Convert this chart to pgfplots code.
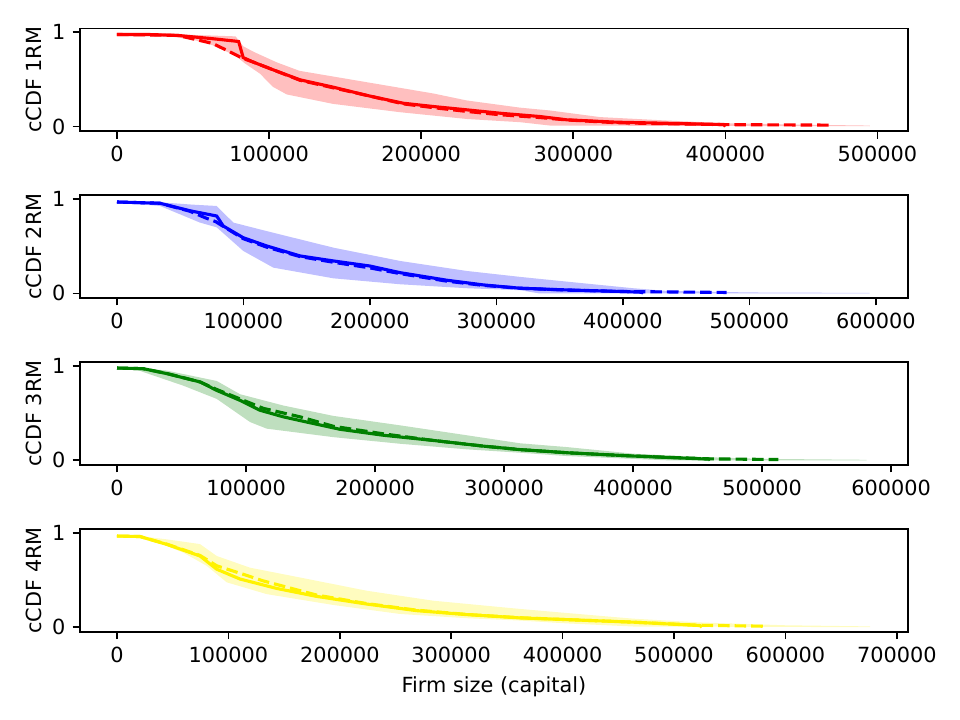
\documentclass[border=0pt]{standalone}
\usepackage{fontspec}
\setmainfont{DejaVu Sans}
\usepackage{pgfplots}
\pgfplotsset{compat=1.18}
\definecolor{mgreen}{RGB}{0,128,0}
\pgfplotsset{
  panel/.style={
    scale only axis, width=397.4pt, height=49.4pt,
    anchor=north west,
    ymin=-0.05, ymax=1.04, ytick={0,1},
    xtick distance=100000,
    tick align=outside, xtick pos=bottom, ytick pos=left,
    major tick length=3.5pt,
    axis line style={line width=0.8pt}, tick style={line width=0.8pt, black},
    /pgf/number format/assume math mode=true,
    scaled x ticks=false,
    xticklabel style={/pgf/number format/fixed, /pgf/number format/1000 sep={}},
    tick label style={font=\fontsize{10}{12}\selectfont},
    label style={font=\fontsize{10}{12}\selectfont},
    ylabel style={yshift=-2pt},
    every axis plot/.append style={line width=1.5pt},
  },
  dsh/.style={dash pattern=on 5.55pt off 2.4pt},
}
\begin{document}
\begin{tikzpicture}
% Panel 1
\begin{axis}[panel, at={(0,0)}, xmin=-24300, xmax=520000, ylabel={cCDF 1RM}]
\addplot[fill=red, fill opacity=0.25, draw=none] coordinates {(0,0.98)(30000,0.98)(60000,0.965)(78000,0.955)(83000,0.85)(90000,0.79)(105000,0.68)(120000,0.59)(164000,0.47)(208000,0.35)(230000,0.276)(265000,0.20)(284700,0.17)(317600,0.10)(361000,0.064)(400000,0.035)(450000,0.02)(495000,0.01)
(495000,0.003)(285000,0.01)(265000,0.046)(230000,0.08)(186000,0.152)(142000,0.24)(111600,0.34)(102600,0.42)(94000,0.56)(84000,0.67)(78000,0.75)(63000,0.86)(50000,0.92)(30000,0.965)(0,0.975)} -- cycle;
\addplot[red, dsh] coordinates {(0,0.975)(40000,0.965)(63000,0.88)(74300,0.79)(83000,0.72)(90000,0.68)(102800,0.60)(120300,0.49)(142200,0.41)(164200,0.33)(188200,0.24)(208000,0.20)(229900,0.16)(251800,0.125)(278100,0.095)(295700,0.07)(328500,0.04)(360000,0.03)(400000,0.02)(470700,0.015)};
\addplot[red] coordinates {(0,0.975)(20000,0.975)(40000,0.965)(63000,0.93)(77600,0.905)(80000,0.90)(83000,0.73)(90000,0.68)(102800,0.60)(120300,0.495)(142200,0.417)(164200,0.33)(188200,0.247)(208000,0.212)(229900,0.177)(251800,0.141)(278100,0.106)(295700,0.071)(328500,0.046)(360000,0.035)(399000,0.021)(400000,0.0)};
\end{axis}
% Panel 2
\begin{axis}[panel, at={(0,-80.1pt)}, xmin=-29250, xmax=625300, ylabel={cCDF 2RM}]
\addplot[fill=blue, fill opacity=0.25, draw=none] coordinates {(0,0.975)(34000,0.965)(60000,0.94)(78800,0.926)(92000,0.75)(118300,0.66)(171000,0.485)(223700,0.344)(276400,0.238)(318600,0.175)(355500,0.125)(408000,0.055)(434000,0.027)(500000,0.01)(595000,0.005)
(595000,0.0)(334000,0.0)(318600,0.034)(276400,0.055)(223700,0.097)(171000,0.16)(123600,0.273)(99800,0.45)(78800,0.70)(65600,0.75)(34000,0.926)(0,0.965)} -- cycle;
\addplot[blue, dsh] coordinates {(0,0.968)(34000,0.955)(57700,0.87)(70000,0.80)(78000,0.76)(84000,0.71)(99800,0.58)(118300,0.49)(144700,0.39)(171000,0.33)(200000,0.27)(223700,0.21)(260600,0.13)(289600,0.085)(318600,0.055)(355500,0.035)(400000,0.02)(482000,0.01)};
\addplot[blue] coordinates {(0,0.968)(34000,0.955)(57700,0.875)(78800,0.82)(84000,0.714)(99800,0.59)(118300,0.503)(144700,0.397)(171000,0.344)(200000,0.29)(223700,0.22)(260600,0.14)(289600,0.09)(318600,0.055)(355500,0.037)(400000,0.02)(415000,0.012)(416000,0.0)};
\end{axis}
% Panel 3
\begin{axis}[panel, at={(0,-160.2pt)}, xmin=-28700, xmax=613000, ylabel={cCDF 3RM}]
\addplot[fill=mgreen, fill opacity=0.25, draw=none] coordinates {(0,0.98)(20400,0.975)(38500,0.95)(77300,0.84)(95300,0.70)(128900,0.58)(167700,0.47)(219400,0.37)(271100,0.265)(312400,0.18)(348600,0.14)(400200,0.07)(452000,0.035)(500000,0.015)(581000,0.005)
(581000,0.0)(426000,0.0)(348600,0.045)(312400,0.08)(271100,0.116)(219400,0.175)(167700,0.245)(116000,0.335)(103100,0.405)(77300,0.65)(51400,0.79)(25600,0.91)(15000,0.96)(0,0.975)} -- cycle;
\addplot[mgreen, dsh] coordinates {(0,0.977)(20400,0.97)(38500,0.92)(64300,0.83)(77300,0.75)(95300,0.65)(113400,0.55)(141900,0.46)(167700,0.36)(206500,0.28)(245200,0.21)(284000,0.15)(312400,0.113)(348600,0.08)(400200,0.045)(459700,0.015)(512600,0.008)};
\addplot[mgreen] coordinates {(0,0.977)(20400,0.97)(38500,0.918)(64300,0.83)(77300,0.74)(95300,0.635)(110800,0.53)(128900,0.46)(147000,0.405)(172900,0.328)(206500,0.265)(245200,0.21)(284000,0.15)(312400,0.113)(348600,0.08)(400200,0.045)(459000,0.012)(459700,0.0)};
\end{axis}
% Panel 4
\begin{axis}[panel, at={(0,-240.3pt)}, xmin=-33200, xmax=710000, ylabel={cCDF 4RM}, xlabel={Firm size (capital)}]
\addplot[fill=yellow, fill opacity=0.25, draw=none] coordinates {(0,0.97)(20600,0.965)(44600,0.93)(74500,0.88)(89500,0.754)(119400,0.63)(164300,0.526)(224100,0.386)(284000,0.28)(361800,0.193)(403700,0.15)(463500,0.09)(523300,0.05)(600000,0.02)(676000,0.008)
(676000,0.0)(463500,0.007)(403700,0.04)(361800,0.07)(313900,0.095)(254000,0.14)(194200,0.235)(134400,0.35)(98500,0.475)(80500,0.65)(59500,0.79)(29600,0.93)(20600,0.955)(0,0.96)} -- cycle;
\addplot[yellow, dsh] coordinates {(0,0.965)(20600,0.96)(44600,0.88)(74500,0.76)(89500,0.65)(113400,0.56)(131300,0.49)(160000,0.40)(179200,0.34)(224100,0.25)(269000,0.18)(313900,0.135)(361800,0.10)(403700,0.08)(463500,0.053)(523300,0.02)(580000,0.01)};
\addplot[yellow] coordinates {(0,0.965)(20600,0.96)(44600,0.877)(74500,0.754)(89500,0.614)(110400,0.51)(143400,0.41)(179200,0.326)(224100,0.245)(269000,0.175)(313900,0.133)(361800,0.098)(403700,0.08)(463500,0.053)(523300,0.017)(525000,0.0)};
\end{axis}
\useasboundingbox (-38.4pt,13.6pt) rectangle (422.4pt,-332pt);
\end{tikzpicture}
\end{document}
